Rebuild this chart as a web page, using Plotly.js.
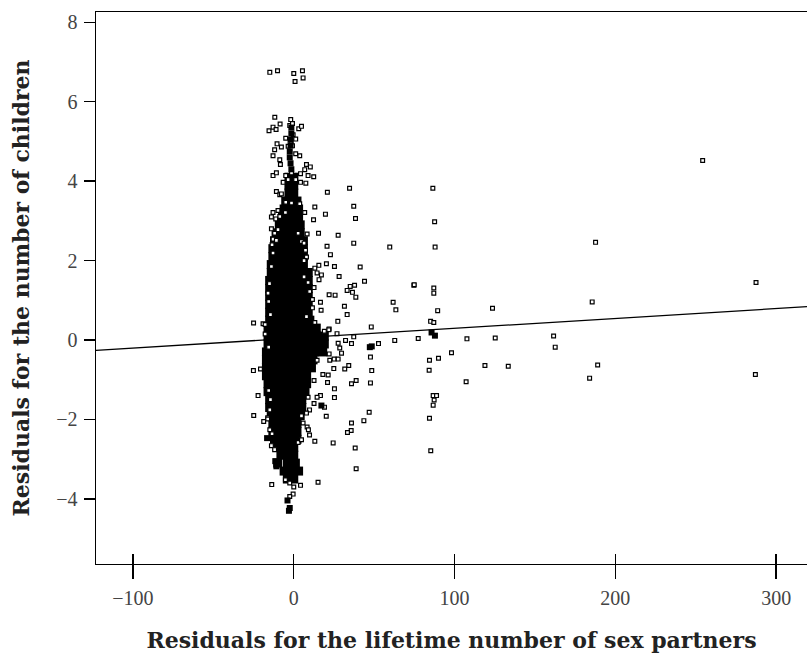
<!DOCTYPE html>
<html><head><meta charset="utf-8">
<script src="https://cdn.plot.ly/plotly-3.0.1.min.js"></script>
<style>html,body{margin:0;padding:0;background:#fff}#chart{width:807px;height:656px}</style>
</head><body><div id="chart"></div>
<script>
// Sparse individual observations (open squares)
const openX = [-14.9,-10.1,0,5.4,5.8,0.8,
-11.8,-15.4,-12.9,-11.0,-8.5,-1.9,-2.5,-0.8,3.1,4.8,-5.0,-0.4,-1.7,1.2,-10.4,-7.7,-11.9,-12.9,-8.7,-8.3,-3.5,-0.8,3.7,1.2,7.9,10.3,6.8,4.2,-12.9,-10.8,-5.0,-1.4,-6.6,-3.5,1.2,4.2,7.5,12.4,8.9,-10.8,-8.7,-7.7,20.9,34.7,-5.0,-1.4,3.7,13.1,37.3,-12.9,-9.8,-13.9,-8.7,-5.2,6.8,19.7,12.3,38.4,-11.2,-13.9,-11.9,-9.8,2.7,8.3,15.4,27.6,-12.9,-10.8,4.8,6.4,-13.5,20.7,37.3,59.7,7.3,-12.9,7.9,6.4,22.8,20.3,25.3,41.3,15.6,13.1,-13.9,14.5,17.2,15.7,28.2,6.4,8.9,44.0,74.7,35.1,37.8,33.2,36.5,38.6,22.0,25.7,-15.1,-16.0,12.6,9.9,11.6,16.6,17.0,11.6,31.5,33.2,61.8,63.5,-15.6,-14.5,7.9,27.4,13.1,-25.0,-19.1,-17.8,48.2,22.0,26.9,37.3,32.2,35.9,62.8,52.7,27.6,28.6,29.7,22.0,-17.8,-15.6,21.8,19.0,22.4,25.1,27.6,47.7,14.5,24.9,34.2,31.7,48.5,21.4,18.1,-25.1,-20.7,38.8,35.9,47.7,21.0,12.6,25.3,-15.6,-22.2,25.3,16.6,14.5,8.9,-14.5,19.1,12.6,9.8,-14.9,20.2,4.8,7.9,-16.2,46.9,-24.9,-18.7,-16.2,43.6,35.9,35.7,33.4,5.8,8.3,9.1,9.8,-14.9,-13.5,13.1,24.5,38.2,2.7,4.8,-13.9,-11.9,38.8,15.1,4.2,0,-13.7,-5.2,-2.5,-0.4,-2.5,
254.3,86.5,87.6,87.9,187.7,74.9,87.1,87.1,287.5,185.6,123.6,89.5,85.1,87.1,77.4,107.7,125.3,161.6,162.6,98.1,90.0,84.4,84.2,118.9,133.4,189.0,184.0,287.1,107.2,86.7,88.8,87.3,86.7,84.4,85.2];
const openY = [6.74,6.78,6.71,6.78,6.6,6.51,
5.61,5.27,5.36,5.30,5.44,5.55,5.40,5.45,5.32,5.38,5.08,5.17,5.0,5.06,4.94,4.86,4.79,4.64,4.54,4.42,4.88,4.89,4.64,4.69,4.42,4.36,4.29,4.19,4.14,4.21,4.14,4.21,3.97,4.04,4.04,3.97,3.95,4.11,4.14,3.74,3.66,3.68,3.72,3.82,3.47,3.45,3.43,3.35,3.37,3.21,3.26,3.10,3.11,3.21,3.21,3.17,3.03,3.06,3.05,2.80,2.69,2.78,2.69,2.67,2.69,2.64,2.54,2.51,2.48,2.44,2.40,2.36,2.44,2.34,2.26,2.19,2.09,2.0,2.15,1.92,1.85,1.84,1.88,1.81,1.85,1.69,1.64,1.52,1.60,1.59,1.45,1.48,1.38,1.35,1.38,1.25,1.20,1.08,1.14,1.13,1.42,1.18,1.32,1.22,1.02,0.95,0.75,0.81,0.85,0.64,0.95,0.76,0.97,0.64,0.59,0.47,0.44,0.43,0.41,0.39,0.33,0.28,0.16,0.08,-0.01,-0.09,-0.01,-0.09,-0.08,-0.20,-0.33,-0.35,0.15,-0.18,0.26,0.22,-0.51,-0.48,-0.48,-0.43,-0.51,-0.72,-0.64,-0.73,-0.77,-0.88,-0.87,-0.77,-0.73,-1.02,-1.10,-1.08,-1.07,-1.02,-1.23,-1.27,-1.40,-1.45,-1.40,-1.44,-1.44,-1.50,-1.69,-1.60,-1.76,-1.76,-1.92,-1.91,-1.84,-1.96,-1.82,-1.90,-2.05,-1.99,-2.03,-2.09,-2.28,-2.33,-2.09,-2.19,-2.26,-2.39,-2.26,-2.36,-2.55,-2.59,-2.72,-2.58,-2.51,-2.66,-2.76,-3.24,-3.58,-3.66,-3.70,-3.64,-3.52,-3.60,-3.88,-3.94,
4.52,3.82,2.98,2.34,2.46,1.39,1.31,1.18,1.45,0.96,0.80,0.74,0.47,0.44,0.04,0.03,0.05,0.10,-0.18,-0.32,-0.46,-0.51,-0.76,-0.64,-0.66,-0.63,-0.96,-0.87,-1.05,-1.40,-1.40,-1.51,-1.64,-1.97,-2.79];

// Dense overplotted core of the cloud (solid black)
const coreX = [-3,0, -3,0, -3,0, -5,-1,2, -6,-1,3, -7,-2,3, -9,-4,1,4, -11,-6,-1,4, -12,-7,-2,3,6, -13,-8,-3,2,6, -13,-8,-3,2,6, -14,-9,-4,1,6, -14,-9,-4,1,6,9, -15,-10,-5,0,5,9, -15,-10,-5,0,5,9, -15,-10,-5,0,5,9, -15,-10,-5,0,5,9, -15,-10,-5,0,5,9, -15,-10,-5,0,5,10, -16,-11,-6,-1,4,9,14, -16,-11,-6,-1,4,9,14,19, -16,-11,-6,-1,4,9,14,19, -17,-12,-7,-2,3,8,13,18, -17,-12,-7,-2,3,8,12, -17,-12,-7,-2,3,8,11, -17,-12,-7,-2,3,8, -16,-11,-6,-1,4,8, -16,-11,-6,-1,4,7, -15,-10,-5,0,5, -15,-10,-5,0,5, -14,-9,-4,1,4, -13,-8,-3,2, -13,-8,-3,2, -12,-7,-2,2, -10,-5,0, -8,-4,0, -10,-4,1, -6,-2,3, -4,0];
const coreY = [4.1,4.1, 3.9,3.9, 3.7,3.7, 3.5,3.5,3.5, 3.3,3.3,3.3, 3.1,3.1,3.1, 2.9,2.9,2.9,2.9, 2.7,2.7,2.7,2.7, 2.5,2.5,2.5,2.5,2.5, 2.3,2.3,2.3,2.3,2.3, 2.1,2.1,2.1,2.1,2.1, 1.9,1.9,1.9,1.9,1.9, 1.7,1.7,1.7,1.7,1.7,1.7, 1.5,1.5,1.5,1.5,1.5,1.5, 1.3,1.3,1.3,1.3,1.3,1.3, 1.1,1.1,1.1,1.1,1.1,1.1, 0.9,0.9,0.9,0.9,0.9,0.9, 0.7,0.7,0.7,0.7,0.7,0.7, 0.5,0.5,0.5,0.5,0.5,0.5, 0.3,0.3,0.3,0.3,0.3,0.3,0.3, 0.1,0.1,0.1,0.1,0.1,0.1,0.1,0.1, -0.1,-0.1,-0.1,-0.1,-0.1,-0.1,-0.1,-0.1, -0.3,-0.3,-0.3,-0.3,-0.3,-0.3,-0.3,-0.3, -0.5,-0.5,-0.5,-0.5,-0.5,-0.5,-0.5, -0.7,-0.7,-0.7,-0.7,-0.7,-0.7,-0.7, -0.9,-0.9,-0.9,-0.9,-0.9,-0.9, -1.1,-1.1,-1.1,-1.1,-1.1,-1.1, -1.3,-1.3,-1.3,-1.3,-1.3,-1.3, -1.5,-1.5,-1.5,-1.5,-1.5, -1.7,-1.7,-1.7,-1.7,-1.7, -1.9,-1.9,-1.9,-1.9,-1.9, -2.1,-2.1,-2.1,-2.1, -2.3,-2.3,-2.3,-2.3, -2.5,-2.5,-2.5,-2.5, -2.7,-2.7,-2.7, -2.9,-2.9,-2.9, -3.1,-3.1,-3.1, -3.3,-3.3,-3.3, -3.5,-3.5];

// Small overplotted clumps (solid black, small)
const clumpX = [-1.5,-1.5,-2,-2,-2.5,-2.5,-2,-1.5, 47.3,48.5, 85.7,87.8, -16.6,-10.8,-11.5, -3.9,-2.5,-3.0, 17.2];
const clumpY = [5.35,5.2,5.05,4.9,4.75,4.6,4.45,4.3, -0.18,-0.16, 0.19,0.11, -2.47,-3.18,-3.05, -4.04,-4.23,-4.3, -1.65];

// Fitted regression line (endpoints read at the plot edges)
const fitX = [-123, 319.2];
const fitY = [-0.26, 0.84];

const xTicks = [-100, 0, 100, 200, 300];
const yTicks = [-4, -2, 0, 2, 4, 6, 8];

const serif = 'Liberation Serif, Times New Roman, serif';
const titleFont = 'DejaVu Serif, serif';
const xRange = [-123, 319.2];
const yRange = [-5.64, 8.26];

const traces = [
  {type:'scatter', mode:'markers', x:coreX, y:coreY, hoverinfo:'skip',
   marker:{symbol:'square', size:9, color:'#000', line:{width:0}}},
  {type:'scatter', mode:'markers', x:openX, y:openY,
   marker:{symbol:'square', size:3.8, color:'#fff', line:{color:'#000', width:1.2}}},
  {type:'scatter', mode:'markers', x:clumpX, y:clumpY, hoverinfo:'skip',
   marker:{symbol:'square', size:6, color:'#000', line:{width:0}}},
  {type:'scatter', mode:'lines', x:fitX, y:fitY, xaxis:'x2', yaxis:'y',
   line:{color:'#000', width:1.3}}
];

const layout = {
  width:807, height:656, showlegend:false,
  paper_bgcolor:'#fff', plot_bgcolor:'#fff',
  margin:{l:96, r:0, t:12, b:92},
  font:{family:serif, color:'#444'},
  xaxis:{range:xRange, tickvals:xTicks, ticktext:xTicks.map(v=>v<0?'\u2212'+Math.abs(v):String(v)),
    ticks:'outside', ticklen:14, tickwidth:1.4, tickcolor:'#000',
    showline:true, linecolor:'#000', linewidth:1.4, mirror:true,
    showgrid:false, zeroline:false, ticklabelstandoff:2,
    tickfont:{family:serif, size:20, color:'#444'},
    title:{text:'Residuals for the lifetime number of sex partners', standoff:24,
      font:{family:titleFont, size:22, color:'#222', weight:'bold'}}},
  xaxis2:{range:xRange, overlaying:'x', anchor:'y', side:'bottom', tickvals:xTicks,
    ticks:'inside', ticklen:10, tickwidth:1.4, tickcolor:'#000',
    showticklabels:false, showline:false, showgrid:false, zeroline:false},
  yaxis:{range:yRange, tickvals:yTicks, ticktext:yTicks.map(v=>v<0?'\u2212'+Math.abs(v):String(v)),
    ticks:'outside', ticklen:11, tickwidth:1.4, tickcolor:'#000',
    showline:true, linecolor:'#000', linewidth:1.4, mirror:false,
    showgrid:false, zeroline:false, ticklabelstandoff:2,
    tickfont:{family:serif, size:20, color:'#444'},
    title:{text:'Residuals for the number of children', standoff:20,
      font:{family:titleFont, size:22, color:'#222', weight:'bold'}}}
};

Plotly.newPlot('chart', traces, layout, {displayModeBar:false, staticPlot:true});
</script>
</body></html>
